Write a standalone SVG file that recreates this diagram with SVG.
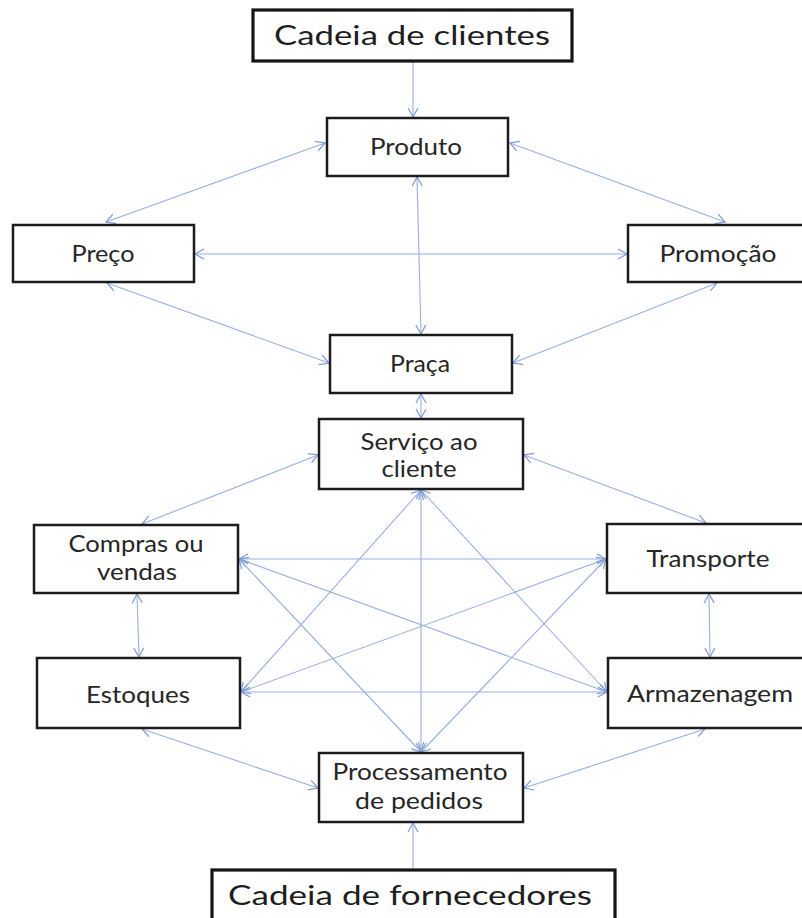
<svg xmlns="http://www.w3.org/2000/svg" width="802" height="918" viewBox="0 0 802 918">
  <style>
    .box { fill: #ffffff; stroke: #1c1c1c; stroke-width: 2.5; }
    .chain { fill: #ffffff; stroke: #141414; stroke-width: 3.2; }
    .lbl { font-family: Lato, "Open Sans", "Liberation Sans", sans-serif; font-size: 24px; fill: #262626; text-anchor: middle; }
    .big { font-family: Lato, "Open Sans", "Liberation Sans", sans-serif; font-size: 27px; fill: #1e1e1e; text-anchor: middle; }
    .link { stroke: #98b0e0; stroke-width: 1.1; fill: none; }
  </style>
  <defs>
    <marker id="tip" markerUnits="userSpaceOnUse" markerWidth="14" markerHeight="14" viewBox="-12 -6 14 12" refX="0" refY="0" orient="auto-start-reverse">
      <path d="M -9 -5 L 0 0 L -9 5" fill="none" stroke="#7f9bd6" stroke-width="1.2"/>
    </marker>
  </defs>

  <!-- connectors -->
  <g id="connectors" class="links">
    <line class="link" x1="413" y1="62" x2="413" y2="117" marker-end="url(#tip)"/>
    <line class="link" x1="325" y1="143" x2="106" y2="222" marker-start="url(#tip)" marker-end="url(#tip)"/>
    <line class="link" x1="510" y1="143" x2="725" y2="222" marker-start="url(#tip)" marker-end="url(#tip)"/>
    <line class="link" x1="195" y1="254" x2="627" y2="254" marker-start="url(#tip)" marker-end="url(#tip)"/>
    <line class="link" x1="417" y1="177" x2="421" y2="334" marker-start="url(#tip)" marker-end="url(#tip)"/>
    <line class="link" x1="107" y1="283" x2="329" y2="363" marker-start="url(#tip)" marker-end="url(#tip)"/>
    <line class="link" x1="717" y1="283" x2="513" y2="363" marker-start="url(#tip)" marker-end="url(#tip)"/>
    <line class="link" x1="421" y1="394" x2="421" y2="418" marker-start="url(#tip)" marker-end="url(#tip)"/>
    <line class="link" x1="318" y1="455" x2="142" y2="524" marker-start="url(#tip)" marker-end="url(#tip)"/>
    <line class="link" x1="524" y1="455" x2="706" y2="523" marker-start="url(#tip)" marker-end="url(#tip)"/>
    <line class="link" x1="137" y1="594" x2="139" y2="657" marker-start="url(#tip)" marker-end="url(#tip)"/>
    <line class="link" x1="709" y1="594" x2="710" y2="657" marker-start="url(#tip)" marker-end="url(#tip)"/>
    <line class="link" x1="142" y1="729" x2="318" y2="788" marker-start="url(#tip)" marker-end="url(#tip)"/>
    <line class="link" x1="705" y1="729" x2="524" y2="788" marker-start="url(#tip)" marker-end="url(#tip)"/>
    <line class="link" x1="413" y1="869" x2="413" y2="823" marker-end="url(#tip)"/>
    <!-- central mesh -->
    <line class="link" x1="421" y1="490" x2="241" y2="692" marker-start="url(#tip)" marker-end="url(#tip)"/>
    <line class="link" x1="421" y1="490" x2="607" y2="692" marker-start="url(#tip)" marker-end="url(#tip)"/>
    <line class="link" x1="421" y1="490" x2="421" y2="752" marker-start="url(#tip)" marker-end="url(#tip)"/>
    <line class="link" x1="239" y1="559" x2="606" y2="559" marker-start="url(#tip)" marker-end="url(#tip)"/>
    <line class="link" x1="239" y1="559" x2="607" y2="692" marker-start="url(#tip)" marker-end="url(#tip)"/>
    <line class="link" x1="239" y1="559" x2="421" y2="752" marker-start="url(#tip)" marker-end="url(#tip)"/>
    <line class="link" x1="241" y1="692" x2="606" y2="559" marker-start="url(#tip)" marker-end="url(#tip)"/>
    <line class="link" x1="241" y1="692" x2="607" y2="692" marker-start="url(#tip)" marker-end="url(#tip)"/>
    <line class="link" x1="606" y1="559" x2="421" y2="752" marker-start="url(#tip)" marker-end="url(#tip)"/>
  </g>

  <!-- nodes -->
  <g id="cadeia-clientes">
    <rect class="chain" x="253" y="10" width="319" height="51"/>
    <text class="big" x="412" y="45" textLength="276" lengthAdjust="spacingAndGlyphs">Cadeia de clientes</text>
  </g>
  <g id="produto">
    <rect class="box" x="327" y="118" width="181" height="58"/>
    <text class="lbl" x="416" y="155" textLength="92" lengthAdjust="spacingAndGlyphs">Produto</text>
  </g>
  <g id="preco">
    <rect class="box" x="13" y="225" width="181" height="57"/>
    <text class="lbl" x="103" y="262" textLength="63" lengthAdjust="spacingAndGlyphs">Preço</text>
  </g>
  <g id="promocao">
    <rect class="box" x="628" y="225" width="184" height="57"/>
    <text class="lbl" x="718" y="262" textLength="117" lengthAdjust="spacingAndGlyphs">Promoção</text>
  </g>
  <g id="praca">
    <rect class="box" x="330" y="335" width="182" height="58"/>
    <text class="lbl" x="420" y="372" textLength="60" lengthAdjust="spacingAndGlyphs">Praça</text>
  </g>
  <g id="servico">
    <rect class="box" x="319" y="419" width="204" height="70"/>
    <text class="lbl" x="419" y="450" textLength="117" lengthAdjust="spacingAndGlyphs">Serviço ao</text>
    <text class="lbl" x="419" y="477" textLength="75" lengthAdjust="spacingAndGlyphs">cliente</text>
  </g>
  <g id="compras">
    <rect class="box" x="34" y="525" width="204" height="68"/>
    <text class="lbl" x="136" y="552" textLength="135" lengthAdjust="spacingAndGlyphs">Compras ou</text>
    <text class="lbl" x="137" y="580" textLength="80" lengthAdjust="spacingAndGlyphs">vendas</text>
  </g>
  <g id="transporte">
    <rect class="box" x="607" y="524" width="205" height="69"/>
    <text class="lbl" x="708" y="567" textLength="123" lengthAdjust="spacingAndGlyphs">Transporte</text>
  </g>
  <g id="estoques">
    <rect class="box" x="37" y="658" width="203" height="70"/>
    <text class="lbl" x="138" y="703" textLength="104" lengthAdjust="spacingAndGlyphs">Estoques</text>
  </g>
  <g id="armazenagem">
    <rect class="box" x="608" y="658" width="204" height="70"/>
    <text class="lbl" x="710" y="702" textLength="166" lengthAdjust="spacingAndGlyphs">Armazenagem</text>
  </g>
  <g id="processamento">
    <rect class="box" x="319" y="753" width="204" height="69"/>
    <text class="lbl" x="420" y="780" textLength="175" lengthAdjust="spacingAndGlyphs">Processamento</text>
    <text class="lbl" x="419" y="809" textLength="128" lengthAdjust="spacingAndGlyphs">de pedidos</text>
  </g>
  <g id="cadeia-fornecedores">
    <rect class="chain" x="212" y="870" width="403" height="60"/>
    <text class="big" x="410" y="905" textLength="364" lengthAdjust="spacingAndGlyphs">Cadeia de fornecedores</text>
  </g>
</svg>
